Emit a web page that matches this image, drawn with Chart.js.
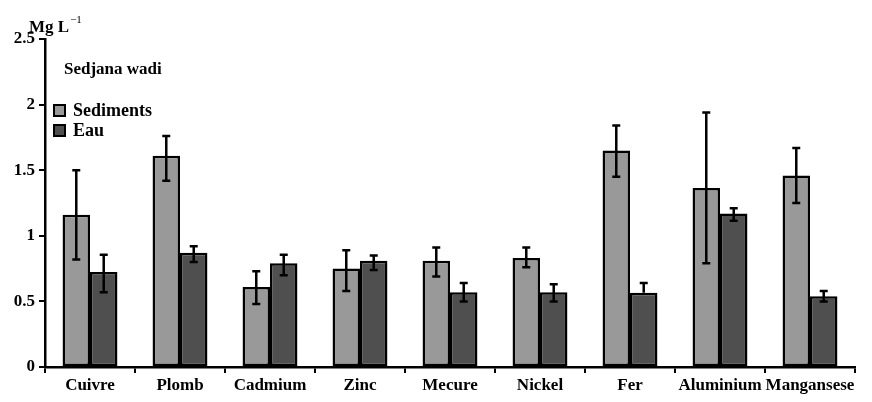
<!DOCTYPE html>
<html>
<head>
<meta charset="utf-8">
<script src="https://cdn.jsdelivr.net/npm/chart.js@4"></script>
<style>
  html, body { margin: 0; padding: 0; background: #fff; }
  #wrap { width: 872px; height: 402px; }
</style>
</head>
<body>
<div id="wrap"><canvas id="metalChart" width="872" height="402"></canvas></div>
<script>
// metals measured
const categories = ["Cuivre", "Plomb", "Cadmium", "Zinc", "Mecure", "Nickel", "Fer", "Aluminium", "Mangansese"];
// mean concentrations (Mg L-1)
const sediments = [1.16, 1.61, 0.61, 0.75, 0.81, 0.83, 1.65, 1.365, 1.46];
const eau = [0.725, 0.87, 0.79, 0.81, 0.57, 0.57, 0.565, 1.17, 0.54];
// error bars (up / down)
const sedErrUp = [0.34, 0.15, 0.12, 0.14, 0.10, 0.08, 0.19, 0.575, 0.21];
const sedErrDown = [0.34, 0.19, 0.13, 0.17, 0.12, 0.07, 0.20, 0.575, 0.21];
const eauErrUp = [0.13, 0.05, 0.065, 0.04, 0.07, 0.06, 0.075, 0.04, 0.04];
const eauErrDown = [0.155, 0.07, 0.09, 0.07, 0.07, 0.07, 0, 0.055, 0.04];
const yTicks = [0, 0.5, 1, 1.5, 2, 2.5];
const yTickLabels = ["0", "0.5", "1", "1.5", "2", "2.5"];

const FONT = "'Liberation Serif', 'DejaVu Serif', serif";

// draws error bars with the chart's own scales
const errorBars = {
  id: "errorBars",
  afterDatasetsDraw(chart) {
    const ctx = chart.ctx;
    const y = chart.scales.y;
    const errs = [[sedErrUp, sedErrDown], [eauErrUp, eauErrDown]];
    ctx.save();
    ctx.strokeStyle = "#000";
    ctx.lineWidth = 2.5;
    chart.data.datasets.forEach((ds, i) => {
      const meta = chart.getDatasetMeta(i);
      meta.data.forEach((bar, j) => {
        const v = ds.data[j];
        const top = y.getPixelForValue(v + errs[i][0][j]);
        const bot = y.getPixelForValue(v - errs[i][1][j]);
        const x = bar.x;
        ctx.beginPath();
        ctx.moveTo(x, top);
        ctx.lineTo(x, bot);
        if (errs[i][0][j] > 0) { ctx.moveTo(x - 4, top); ctx.lineTo(x + 4, top); }
        if (errs[i][1][j] > 0) { ctx.moveTo(x - 4, bot); ctx.lineTo(x + 4, bot); }
        ctx.stroke();
      });
    });
    ctx.restore();
  }
};

// title, unit and legend
const annotations = {
  id: "annotations",
  afterDraw(chart) {
    const ctx = chart.ctx;
    ctx.save();
    ctx.fillStyle = "#000";
    ctx.textBaseline = "alphabetic";
    ctx.font = "bold 17px " + FONT;
    ctx.fillText("Mg L", 29, 32);
    const w = ctx.measureText("Mg L").width;
    ctx.font = "11px " + FONT;
    ctx.fillText("\u22121", 29 + w + 1, 23);

    ctx.font = "bold 17px " + FONT;
    ctx.textBaseline = "middle";
    ctx.fillText("Sedjana wadi", 64, 70);

    ctx.font = "bold 18px " + FONT;
    chart.data.datasets.forEach((ds, i) => {
      const yy = 110 + i * 20;
      ctx.fillStyle = ds.backgroundColor;
      ctx.fillRect(54, yy - 5, 11, 11);
      ctx.strokeStyle = "#000";
      ctx.lineWidth = 2;
      ctx.strokeRect(54, yy - 5, 11, 11);
      ctx.fillStyle = "#000";
      ctx.fillText(ds.label, 73, yy + 1);
    });
    ctx.restore();
  }
};

const config = {
  type: "bar",
  data: {
    labels: categories,
    datasets: [
      {
        label: "Sediments",
        data: sediments,
        backgroundColor: "#999999",
        borderColor: "#000",
        borderWidth: 2.5,
        borderSkipped: false
      },
      {
        label: "Eau",
        data: eau,
        backgroundColor: "#4f4f4f",
        borderColor: "#000",
        borderWidth: 2.5,
        borderSkipped: false
      }
    ]
  },
  options: {
    responsive: false,
    animation: false,
    layout: { padding: { left: 0, right: 17, top: 39, bottom: 0 } },
    datasets: { bar: { categoryPercentage: 0.61, barPercentage: 1 } },
    plugins: { legend: { display: false }, tooltip: { enabled: false } },
    scales: {
      x: {
        afterFit(scale) { scale.height = 35; },
        border: { display: true, color: "#000", width: 2.5 },
        grid: { offset: true, drawOnChartArea: false, drawTicks: true, tickLength: 6, color: "#000", lineWidth: 2 },
        ticks: { color: "#000", font: { family: FONT, size: 17, weight: "bold" }, padding: 2, maxRotation: 0, autoSkip: false }
      },
      y: {
        min: 0,
        max: 2.5,
        afterFit(scale) { scale.width = 45; },
        afterBuildTicks(scale) { scale.ticks = yTicks.map((v) => ({ value: v })); },
        border: { display: true, color: "#000", width: 2.5 },
        grid: { drawOnChartArea: false, drawTicks: true, tickLength: 6, color: "#000", lineWidth: 2 },
        ticks: {
          color: "#000",
          font: { family: FONT, size: 17, weight: "bold" },
          padding: 4,
          callback: (v) => yTickLabels[yTicks.indexOf(v)]
        }
      }
    }
  },
  plugins: [errorBars, annotations]
};

const chart = new Chart(document.getElementById("metalChart").getContext("2d"), config);
</script>
</body>
</html>
